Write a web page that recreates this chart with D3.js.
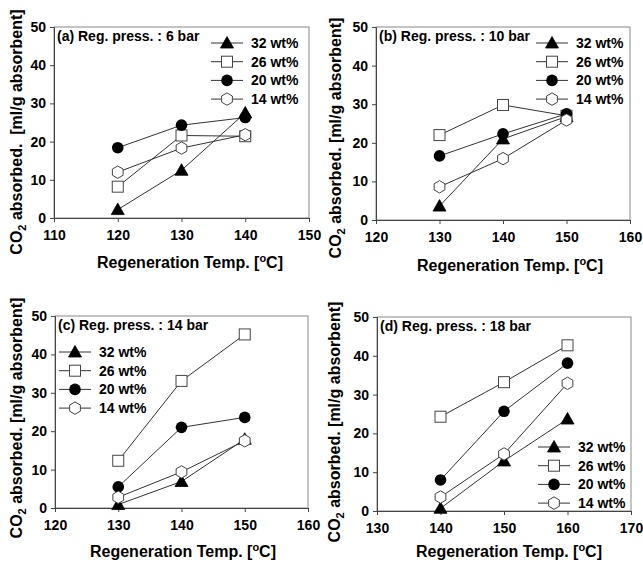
<!DOCTYPE html>
<html lang="en">
<head>
    <meta charset="UTF-8">
    <title>CO2 absorbed vs regeneration temperature</title>
    <script src="https://d3js.org/d3.v7.min.js"></script>
    <style>
        body { margin: 0; background: #fff; }
        svg { display: block; font-family: "Liberation Sans", Arial, sans-serif; font-weight: bold; }
        .tick text { font-size: 14px; font-weight: bold; fill: #000; }
    </style>
</head>
<body>
    <svg id="chart" width="643" height="565"></svg>

    <script>
        // Series names (legend labels) and tick values
        const seriesNames = ["32 wt%", "26 wt%", "20 wt%", "14 wt%"];
        const yTicks = [0, 10, 20, 30, 40, 50];

        // Panel (a): 6 bar
        const tempsA = [120, 130, 140];
        const xTicksA = [110, 120, 130, 140, 150];
        const valuesA = [
            [2.2, 12.5, 27.5],
            [8.2, 21.6, 21.4],
            [18.4, 24.3, 26.3],
            [12.0, 18.3, 21.8]
        ];

        // Panel (b): 10 bar
        const tempsB = [130, 140, 150];
        const xTicksB = [120, 130, 140, 150, 160];
        const valuesB = [
            [3.6, 21.0, 26.8],
            [22.0, 29.8, 27.0],
            [16.6, 22.3, 27.5],
            [8.6, 15.9, 25.9]
        ];

        // Panel (c): 14 bar
        const tempsC = [130, 140, 150];
        const xTicksC = [120, 130, 140, 150, 160];
        const valuesC = [
            [0.9, 6.9, 17.9],
            [12.3, 33.1, 45.2],
            [5.5, 21.0, 23.6],
            [2.8, 9.4, 17.5]
        ];

        // Panel (d): 18 bar
        const tempsD = [140, 150, 160];
        const xTicksD = [130, 140, 150, 160, 170];
        const valuesD = [
            [0.7, 12.9, 23.7],
            [24.3, 33.2, 42.7],
            [8.0, 25.7, 38.1],
            [3.6, 14.7, 32.9]
        ];

        const panelLabels = ["(a) Reg. press. : 6 bar", "(b) Reg. press. : 10 bar",
                             "(c) Reg. press. : 14 bar", "(d) Reg. press. : 18 bar"];

        // Layout of each panel on the page (pixels)
        const panels = [
            { temps: tempsA, ticks: xTicksA, values: valuesA, label: panelLabels[0],
              box: { l: 54, r: 309, t: 27, b: 218 }, yTitle: { x: 22, y: 132, text: "absorbed.\u00a0 [ml/g absorbent]" },
              xTitle: { x: 190, y: 268 }, legend: { x: 211, y: 43 } },
            { temps: tempsB, ticks: xTicksB, values: valuesB, label: panelLabels[1],
              box: { l: 376, r: 630, t: 27, b: 220 }, yTitle: { x: 341, y: 138, text: "absorbed. [ml/g absorbent]" },
              xTitle: { x: 510, y: 271 }, legend: { x: 536, y: 43 } },
            { temps: tempsC, ticks: xTicksC, values: valuesC, label: panelLabels[2],
              box: { l: 55, r: 308, t: 316, b: 508 }, yTitle: { x: 22, y: 418, text: "absorbed. [ml/g absorbent]" },
              xTitle: { x: 183, y: 557 }, legend: { x: 59, y: 352 } },
            { temps: tempsD, ticks: xTicksD, values: valuesD, label: panelLabels[3],
              box: { l: 377, r: 631, t: 317, b: 511 }, yTitle: { x: 340, y: 422, text: "absorbed. [ml/g absorbent]" },
              xTitle: { x: 509, y: 557 }, legend: { x: 538, y: 447 } }
        ];

        const svg = d3.select("#chart");

        // Marker drawing for each series
        function drawMarker(g, i, cx, cy) {
            if (i === 0) {
                g.append("path")
                    .attr("d", `M${cx},${cy - 6.5}L${cx + 6.5},${cy + 5}L${cx - 6.5},${cy + 5}Z`)
                    .attr("fill", "#000").attr("stroke", "#000").attr("stroke-width", 0.8);
            } else if (i === 1) {
                g.append("rect")
                    .attr("x", cx - 5.5).attr("y", cy - 5.5)
                    .attr("width", 11).attr("height", 11)
                    .attr("fill", "#fff").attr("stroke", "#444").attr("stroke-width", 1);
            } else if (i === 2) {
                g.append("circle")
                    .attr("cx", cx).attr("cy", cy).attr("r", 5.8)
                    .attr("fill", "#000");
            } else {
                const pts = d3.range(6).map(k => {
                    const a = Math.PI / 6 + k * Math.PI / 3;
                    return [cx + 6.2 * Math.cos(a), cy + 6.2 * Math.sin(a)];
                });
                g.append("path")
                    .attr("d", "M" + pts.join("L") + "Z")
                    .attr("fill", "#fff").attr("stroke", "#444").attr("stroke-width", 1);
            }
        }

        panels.forEach(p => {
            const x = d3.scaleLinear()
                .domain([p.ticks[0], p.ticks[p.ticks.length - 1]])
                .range([p.box.l, p.box.r]);
            const y = d3.scaleLinear().domain([0, 50]).range([p.box.b, p.box.t]);

            const g = svg.append("g");

            // frame
            g.append("rect")
                .attr("x", p.box.l).attr("y", p.box.t)
                .attr("width", p.box.r - p.box.l).attr("height", p.box.b - p.box.t)
                .attr("fill", "none").attr("stroke", "#888").attr("stroke-width", 1);

            // axes
            const xAxis = g.append("g")
                .attr("transform", `translate(0,${p.box.b})`)
                .call(d3.axisBottom(x).tickValues(p.ticks).tickSize(4).tickPadding(8).tickFormat(d3.format("d")));
            const yAxis = g.append("g")
                .attr("transform", `translate(${p.box.l},0)`)
                .call(d3.axisLeft(y).tickValues(yTicks).tickSize(4).tickPadding(4).tickFormat(d3.format("d")));
            [xAxis, yAxis].forEach(a => {
                a.select(".domain").attr("stroke", "#444");
                a.selectAll(".tick line").attr("stroke", "#444");
            });

            // series lines
            const line = d3.line().x((d, k) => x(p.temps[k])).y(d => y(d));
            p.values.forEach(vals => {
                g.append("path")
                    .attr("d", line(vals))
                    .attr("fill", "none").attr("stroke", "#333").attr("stroke-width", 1);
            });
            // markers (draw hollow ones after filled ones to keep order similar)
            p.values.forEach((vals, i) => {
                vals.forEach((v, k) => drawMarker(g, i, x(p.temps[k]), y(v)));
            });

            // panel annotation
            g.append("text")
                .attr("x", p.box.l + 3).attr("y", p.box.t + 14)
                .attr("font-size", 14)
                .text(p.label);

            // legend
            seriesNames.forEach((name, i) => {
                const ly = p.legend.y + i * 18.7;
                g.append("line")
                    .attr("x1", p.legend.x).attr("x2", p.legend.x + 32)
                    .attr("y1", ly).attr("y2", ly)
                    .attr("stroke", "#333").attr("stroke-width", 1);
                drawMarker(g, i, p.legend.x + 16, ly);
                g.append("text")
                    .attr("x", p.legend.x + 40).attr("y", ly + 5)
                    .attr("font-size", 14)
                    .text(name);
            });

            // x title
            const xt = g.append("text")
                .attr("x", p.xTitle.x).attr("y", p.xTitle.y)
                .attr("text-anchor", "middle")
                .attr("font-size", 16);
            xt.append("tspan").text("Regeneration Temp. [");
            xt.append("tspan").attr("font-size", 11).attr("dy", -6).text("o");
            xt.append("tspan").attr("dy", 6).text("C]");

            // y title
            const yt = g.append("text")
                .attr("transform", `translate(${p.yTitle.x},${p.yTitle.y}) rotate(-90)`)
                .attr("text-anchor", "middle")
                .attr("font-size", 16);
            yt.append("tspan").text("CO");
            yt.append("tspan").attr("font-size", 11).attr("dy", 4).text("2");
            yt.append("tspan").attr("dy", -4).text(" " + p.yTitle.text);
        });
    </script>
</body>
</html>
